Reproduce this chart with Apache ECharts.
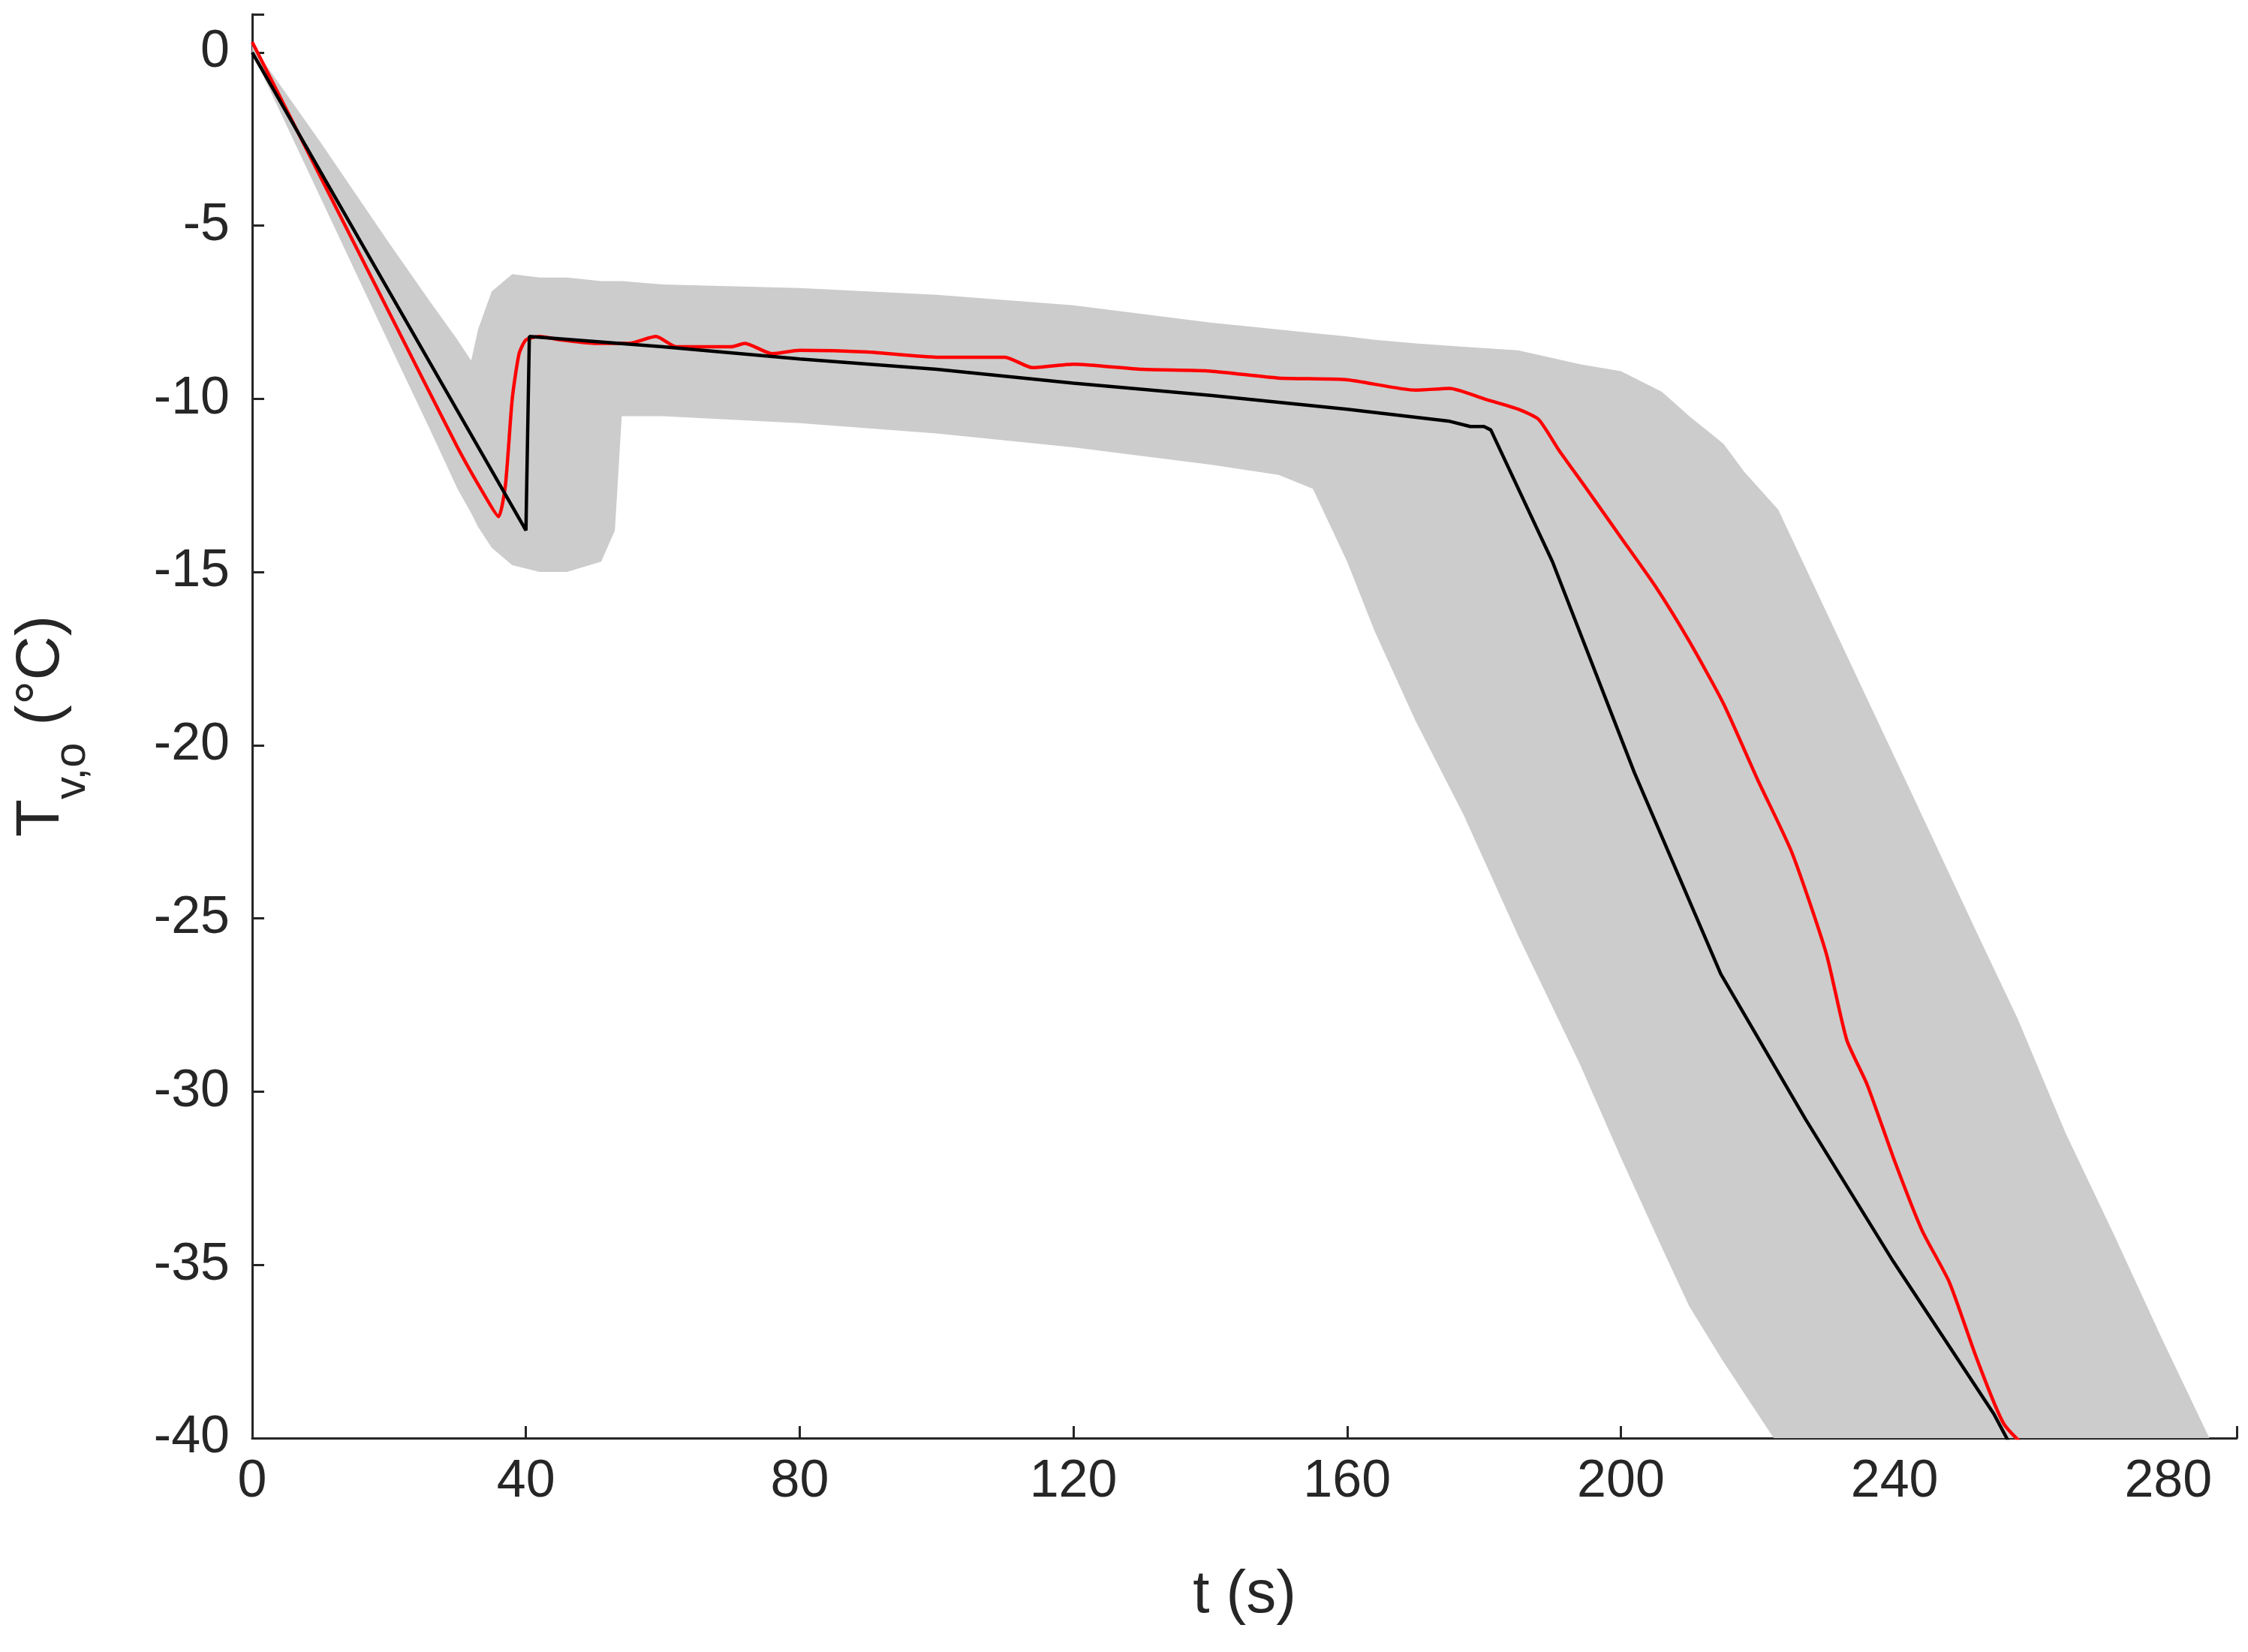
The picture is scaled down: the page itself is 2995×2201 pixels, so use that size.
<!DOCTYPE html>
<html>
<head>
<meta charset="utf-8">
<title>T_v,o</title>
<script src="https://cdn.jsdelivr.net/npm/echarts@6/dist/echarts.min.js"></script>
<style>
  * { margin: 0; padding: 0; }
  #main { width: 2995px; height: 2201px; background: #fff; }
</style>
</head>
<body>
<div id="main"></div>
<script>
// band (grey) on a shared time grid
var bandT = [0, 10, 20, 26, 30, 32, 33, 35, 38, 42, 46, 51, 53, 54, 60, 80, 100, 120, 140, 150, 155, 160, 164, 170, 177, 185, 194, 200, 206, 210, 215, 218, 223, 233, 243, 252, 258, 265, 272, 279, 286, 290];
var bandUpper = [0.2, -2.6, -5.5, -7.2, -8.3, -8.9, -8.0, -6.9, -6.4, -6.5, -6.5, -6.6, -6.6, -6.6, -6.7, -6.8, -7.0, -7.3, -7.8, -8.0, -8.1, -8.2, -8.3, -8.4, -8.5, -8.6, -9.0, -9.2, -9.8, -10.5, -11.3, -12.1, -13.2, -17.4, -21.6, -25.4, -27.9, -31.2, -34.1, -37.1, -40.0, -41.7];
var bandLower = [0, -4.2, -8.4, -10.9, -12.6, -13.3, -13.7, -14.3, -14.8, -15.0, -15.0, -14.7, -13.8, -10.5, -10.5, -10.7, -11.0, -11.4, -11.9, -12.2, -12.6, -14.7, -16.7, -19.3, -22.0, -25.5, -29.2, -31.9, -34.5, -36.2, -37.8, -38.7, -40.2, -43.5, -46.9, -49.9, -51.9, -54.2, -56.6, -58.9, -61.3, -62.6];

var blackT = [0, 40, 40.5, 60, 80, 100, 120, 140, 160, 175, 178, 180, 181, 190, 202, 214.6, 227, 239.8, 254.5, 258];
var blackV = [0, -13.8, -8.2, -8.5, -8.85, -9.15, -9.55, -9.9, -10.3, -10.65, -10.8, -10.8, -10.9, -14.7, -20.8, -26.6, -30.8, -34.9, -39.3, -40.6];

var redT = [0, 10, 20, 30, 34, 36, 37, 38, 39, 40, 42, 45, 50, 55, 59, 62, 70, 72, 76, 80, 90, 100, 110, 114, 120, 130, 140, 150, 160, 170, 175, 180, 185, 188, 191, 195, 200, 205, 210, 215, 220, 225, 230, 233, 236, 240, 244, 248, 252, 256, 261];
var redV = [0.3, -3.6, -7.5, -11.4, -12.8, -13.4, -12.5, -10, -8.7, -8.3, -8.2, -8.3, -8.4, -8.4, -8.2, -8.5, -8.5, -8.4, -8.7, -8.6, -8.65, -8.8, -8.8, -9.1, -9.0, -9.15, -9.2, -9.4, -9.45, -9.75, -9.7, -10.0, -10.3, -10.6, -11.5, -12.6, -14.0, -15.4, -17.0, -18.8, -21.0, -23.1, -26.0, -28.5, -29.8, -32.0, -34.0, -35.5, -37.7, -39.6, -40.6];

function pairs(xs, ys) {
    var out = [];
    for (var i = 0; i < xs.length; i++) out.push([xs[i], ys[i]]);
    return out;
}

function renderBand(params, api) {
    var pts = [];
    for (var i = 0; i < bandT.length; i++) pts.push(api.coord([bandT[i], bandUpper[i]]));
    for (var j = bandT.length - 1; j >= 0; j--) pts.push(api.coord([bandT[j], bandLower[j]]));
    return { type: 'polygon', shape: { points: pts }, style: { fill: '#cccccc' } };
}

var chart = echarts.init(document.getElementById('main'));
var font = 'Arial, "Liberation Sans", sans-serif';
chart.setOption({
    animation: false,
    grid: { left: 336, right: 15, top: 19, bottom: 285 },
    xAxis: {
        type: 'value', min: 0, max: 290, interval: 40,
        name: 't (s)', nameLocation: 'middle', nameGap: 170,
        nameTextStyle: { fontSize: 80, color: '#262626', fontFamily: font },
        axisLine: { onZero: false, lineStyle: { color: '#262626', width: 3 } },
        axisTick: { inside: true, length: 16, lineStyle: { color: '#262626', width: 3 } },
        axisLabel: { fontSize: 70, color: '#262626', fontFamily: font, margin: 24,
            formatter: function (v) { return v % 40 === 0 ? v : ''; } },
        splitLine: { show: false }
    },
    yAxis: {
        type: 'value', min: -40, max: 1.1, interval: 5,
        name: '{b|T}{s|v,o}{b| (°C)}', nameLocation: 'middle', nameGap: 240, nameRotate: 90,
        nameTextStyle: { rich: {
            b: { fontSize: 82, color: '#262626', fontFamily: font },
            s: { fontSize: 60, color: '#262626', fontFamily: font, verticalAlign: 'bottom', padding: [0, 0, -30, 0] }
        } },
        axisLine: { show: true, onZero: false, lineStyle: { color: '#262626', width: 3 } },
        axisTick: { show: true, inside: true, length: 16, lineStyle: { color: '#262626', width: 3 } },
        axisLabel: { fontSize: 70, color: '#262626', fontFamily: font, margin: 30,
            formatter: function (v) { return v % 5 === 0 ? (v < 0 ? '-' + (-v) : v) : ''; } },
        splitLine: { show: false }
    },
    series: [
        { type: 'custom', data: [[0, 0]], renderItem: renderBand, clip: true, silent: true, z: 1 },
        { type: 'line', data: pairs(redT, redV), symbol: 'none', smooth: 0.2, z: 3,
          lineStyle: { color: '#ff0000', width: 4.5 } },
        { type: 'line', data: pairs(blackT, blackV), symbol: 'none', z: 4,
          lineStyle: { color: '#000000', width: 4.5 } }
    ]
});
</script>
</body>
</html>
